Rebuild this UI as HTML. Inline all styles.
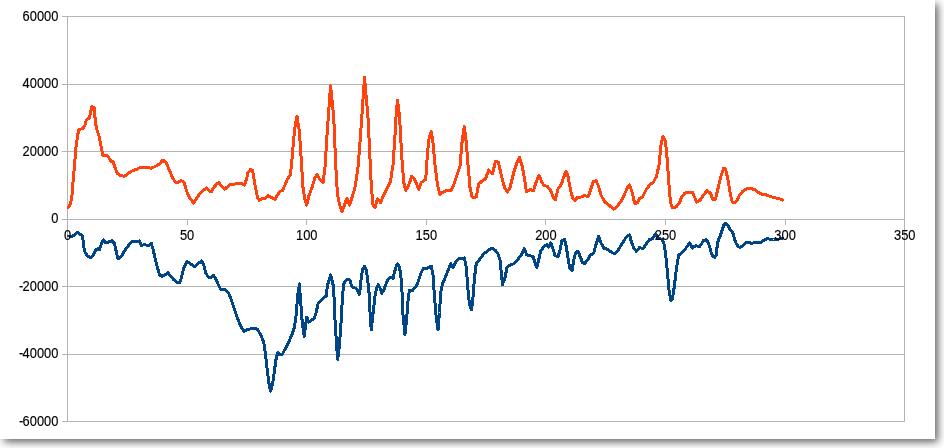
<!DOCTYPE html>
<html><head><meta charset="utf-8"><title>Chart</title>
<style>
html,body{margin:0;padding:0;background:#fff;}
body{width:944px;height:448px;overflow:hidden;position:relative;}
#panel{position:absolute;left:0;top:0;width:935px;height:439px;background:#fff;box-shadow:3.5px 3.5px 8px -0.5px rgba(0,0,0,0.62);}
</style></head><body>
<div id="panel">
<svg width="935" height="439" viewBox="0 0 935 439" style="position:absolute;left:0;top:0">
<g stroke="#b3b3b3" stroke-width="1" fill="none" shape-rendering="crispEdges">
<line x1="62" y1="16.5" x2="905" y2="16.5"/>
<line x1="62" y1="84.5" x2="905" y2="84.5"/>
<line x1="62" y1="151.5" x2="905" y2="151.5"/>
<line x1="62" y1="219.5" x2="905" y2="219.5"/>
<line x1="62" y1="286.5" x2="905" y2="286.5"/>
<line x1="62" y1="354.5" x2="905" y2="354.5"/>
<line x1="62" y1="421.5" x2="905" y2="421.5"/>
<line x1="67.5" y1="16" x2="67.5" y2="422"/>
<line x1="904.5" y1="16" x2="904.5" y2="422"/>
<line x1="67.5" y1="219" x2="67.5" y2="225"/>
<line x1="187.5" y1="219" x2="187.5" y2="225"/>
<line x1="306.5" y1="219" x2="306.5" y2="225"/>
<line x1="426.5" y1="219" x2="426.5" y2="225"/>
<line x1="545.5" y1="219" x2="545.5" y2="225"/>
<line x1="665.5" y1="219" x2="665.5" y2="225"/>
<line x1="785.5" y1="219" x2="785.5" y2="225"/>
<line x1="904.5" y1="219" x2="904.5" y2="225"/>
</g>
<polyline points="68.25,207.50 70.50,203.75 72.00,195.00 73.00,182.50 74.50,165.00 76.00,147.50 77.50,136.30 78.75,130.00 83.10,128.10 85.00,125.00 86.25,120.00 89.40,118.10 90.60,112.50 91.90,106.30 94.40,108.10 95.00,117.50 96.25,127.50 98.75,135.00 100.60,143.75 101.25,147.50 103.00,155.75 106.25,155.00 108.75,157.50 110.75,161.25 113.00,161.25 115.00,167.50 117.50,173.75 121.25,175.75 124.50,176.25 128.75,173.00 132.50,170.75 136.25,169.50 140.00,167.50 143.75,167.50 147.50,167.50 151.25,168.25 155.00,166.50 158.75,164.50 163.00,160.00 166.25,163.00 168.75,168.75 172.00,176.25 175.00,182.00 178.75,182.00 181.25,180.50 184.25,182.50 186.25,190.00 188.75,196.25 191.25,200.00 193.75,203.00 196.25,198.75 198.75,195.00 202.50,191.25 206.25,188.00 208.75,190.50 211.25,191.75 213.75,187.50 216.25,184.50 218.75,182.50 221.25,185.75 224.50,189.25 227.50,186.75 230.50,184.50 233.75,184.50 236.25,183.50 238.75,184.00 241.25,183.50 244.50,185.00 246.25,180.00 248.00,172.50 250.60,169.50 252.50,170.20 253.75,177.50 255.50,187.50 257.50,197.50 259.25,200.50 262.00,198.25 265.00,198.25 268.00,195.50 271.25,197.50 275.00,199.25 277.50,195.00 280.00,191.25 282.50,190.50 285.00,185.00 287.50,178.75 290.00,175.50 291.25,167.50 293.00,147.50 294.50,130.00 297.00,116.25 299.50,132.50 301.25,160.00 303.00,187.50 305.00,200.00 306.75,205.00 308.75,196.25 312.00,187.50 315.00,177.50 317.00,174.50 319.50,178.75 323.00,182.50 325.00,167.50 327.00,135.00 328.25,117.50 330.60,85.70 333.75,117.50 335.00,147.50 336.25,175.00 337.50,195.00 340.00,206.25 342.00,212.00 344.50,205.00 347.00,198.00 349.50,205.00 352.00,197.50 355.00,187.50 358.00,167.50 360.00,142.50 361.75,117.50 364.50,77.50 368.00,117.50 369.50,147.50 371.25,185.00 373.00,205.00 375.00,207.50 377.50,198.75 380.50,202.50 383.75,195.00 387.50,187.50 390.50,181.25 393.00,165.00 395.00,135.00 396.30,112.00 397.50,100.40 399.00,112.00 400.00,125.00 402.00,160.00 403.75,182.50 405.75,190.50 408.75,185.00 411.75,176.25 415.00,180.00 418.75,189.25 421.25,182.50 425.75,179.50 427.00,160.00 428.75,140.00 431.25,131.25 433.00,142.50 435.00,165.00 437.50,185.00 440.00,194.50 443.00,192.00 447.00,190.50 451.25,190.50 453.75,185.00 457.00,175.00 460.00,166.25 462.00,142.50 464.25,126.25 466.25,142.50 468.00,165.00 470.00,187.50 472.00,197.00 476.25,197.00 478.75,183.75 482.00,181.25 485.50,178.75 488.75,170.00 492.50,173.75 495.50,161.25 498.25,162.00 501.25,175.00 504.50,187.50 507.50,192.00 510.00,187.50 513.75,172.50 517.50,161.25 519.50,157.50 522.25,166.25 524.75,180.00 526.50,192.00 529.75,189.50 533.50,190.50 536.00,182.50 539.00,175.00 541.50,181.25 544.00,185.75 547.25,186.25 550.50,190.50 553.50,197.50 555.50,199.50 558.00,188.75 561.50,184.25 563.50,177.50 566.00,171.25 568.00,176.25 570.50,190.00 573.00,198.75 575.00,200.75 577.25,197.50 581.00,197.00 584.00,195.75 588.50,196.25 591.00,188.75 593.50,181.25 596.00,180.75 598.50,186.25 601.00,195.00 604.75,202.00 609.00,205.00 613.50,209.25 617.25,206.25 621.00,201.25 624.75,193.75 627.75,187.00 629.75,185.00 632.25,192.50 634.75,203.75 637.25,203.00 639.75,198.00 642.25,197.50 646.00,190.00 649.75,185.00 653.50,182.00 656.50,176.25 659.00,165.00 661.00,145.00 663.00,136.00 665.50,141.25 667.25,160.00 669.00,185.00 670.50,202.50 672.25,208.00 676.00,207.00 679.00,203.75 681.50,197.50 684.75,193.00 688.50,192.00 692.25,192.00 694.75,197.50 696.50,202.00 699.75,200.50 703.50,195.00 707.25,190.50 710.50,193.50 713.00,199.75 715.50,199.00 718.00,188.50 721.00,176.00 723.60,168.50 725.50,168.80 728.00,179.75 730.50,194.75 732.40,202.25 734.90,202.90 737.40,199.75 739.25,195.40 743.00,191.00 746.75,188.75 751.10,188.50 754.90,189.75 758.00,192.25 761.75,194.10 765.50,194.50 770.50,196.60 775.50,197.90 779.25,198.75 782.40,200.00" fill="none" stroke="#ff420e" stroke-width="3" stroke-linejoin="round" stroke-linecap="round" shape-rendering="crispEdges"/>
<polyline points="68.75,236.00 72.50,236.00 75.00,234.50 77.00,232.25 80.00,234.00 82.50,236.00 83.75,246.50 85.00,252.00 87.50,256.00 90.50,257.75 93.00,256.00 95.50,250.25 98.00,248.50 99.50,249.50 101.25,244.00 103.50,239.75 105.50,242.75 108.75,242.00 112.00,240.75 114.50,243.50 116.25,251.50 118.00,259.00 121.25,256.50 124.50,251.00 128.00,246.00 132.00,241.50 135.00,241.00 137.00,242.00 139.50,241.00 141.25,245.25 145.00,244.75 148.75,246.00 151.25,243.25 153.00,249.00 155.00,257.75 157.50,267.75 159.50,274.75 162.00,276.50 165.00,274.75 168.00,272.75 170.50,276.00 173.75,279.75 177.00,282.25 180.00,282.25 181.75,276.50 183.75,267.75 187.00,261.50 190.50,264.00 194.50,266.50 198.00,263.50 201.75,261.00 203.75,265.25 205.75,272.75 208.00,277.00 210.75,277.25 213.25,275.25 215.75,279.00 218.00,284.00 220.50,289.00 225.00,289.50 228.75,293.25 231.25,299.50 234.50,309.50 237.50,318.25 240.50,325.75 244.25,331.50 247.50,329.50 251.25,328.75 255.00,328.25 257.50,329.50 260.50,334.50 263.75,342.00 265.50,354.50 267.00,368.25 268.75,382.00 270.60,391.30 272.50,384.50 274.25,372.00 276.00,359.50 277.75,352.75 280.00,355.00 282.50,354.00 285.50,348.25 288.75,342.00 292.00,334.50 294.50,327.00 296.25,314.50 297.50,297.00 299.40,284.00 300.50,299.50 302.00,319.50 304.20,336.60 305.50,325.75 306.75,317.00 308.75,322.00 311.25,320.25 314.25,318.25 316.25,312.00 318.25,303.25 321.25,300.00 325.00,297.00 326.25,296.00 327.50,285.00 330.60,275.00 333.10,285.00 334.00,297.00 335.00,319.50 336.50,344.50 337.75,359.50 339.50,344.50 341.25,319.50 342.50,296.00 343.75,283.75 345.60,281.00 347.75,279.30 350.00,280.40 351.25,285.00 353.10,287.50 355.60,288.10 358.10,291.25 359.40,294.50 360.00,290.00 361.25,277.50 362.50,269.50 364.40,266.50 366.25,270.00 367.50,277.50 368.75,290.00 369.40,296.00 370.00,312.00 371.25,330.00 373.00,314.50 375.00,296.00 376.25,290.00 378.10,284.50 379.75,287.50 381.90,293.25 383.75,290.00 385.60,285.00 387.50,280.00 389.40,278.00 391.25,277.70 393.10,278.60 394.40,272.50 396.25,266.00 397.50,263.70 399.40,267.00 400.60,273.75 401.60,283.75 402.20,296.00 403.00,315.00 405.00,334.50 406.75,317.50 408.25,297.50 409.50,290.50 412.50,290.50 416.25,286.25 418.75,280.00 421.25,272.50 423.75,268.00 427.50,268.00 431.25,266.25 433.00,275.00 434.50,297.50 436.25,317.50 438.00,330.00 439.50,312.50 440.75,292.50 442.50,283.75 446.25,275.00 448.75,268.75 450.75,263.75 453.00,268.00 455.50,262.50 458.75,258.75 462.00,258.75 464.50,258.00 466.25,267.50 468.00,290.00 469.50,305.00 471.50,309.50 473.00,297.50 474.50,277.50 476.25,263.75 480.00,258.75 483.75,253.75 487.50,251.25 491.25,248.00 495.00,250.00 498.00,253.75 500.00,260.00 501.25,272.50 502.50,284.50 505.00,277.50 507.00,267.50 510.00,265.00 513.75,263.75 517.50,260.00 521.25,255.00 524.25,248.75 526.75,255.00 530.00,255.50 533.25,257.00 535.00,262.50 536.75,267.50 538.75,260.00 540.50,251.25 543.75,247.00 546.75,244.50 548.75,247.00 550.75,243.00 553.00,248.75 555.00,255.50 558.00,257.00 560.00,250.00 562.00,240.50 564.50,239.50 566.25,246.25 568.25,260.00 570.00,268.75 572.00,270.50 573.75,260.00 575.75,252.50 578.00,251.25 580.00,256.25 582.50,262.50 584.50,263.75 587.50,260.00 590.50,255.00 593.75,253.00 596.25,243.75 598.75,236.25 600.75,242.50 603.75,248.00 607.50,249.50 611.25,252.00 614.50,253.75 617.50,251.25 621.25,245.00 623.00,242.50 626.25,237.00 629.50,234.70 631.25,241.25 633.75,248.00 636.25,251.25 639.50,247.50 643.00,248.75 646.25,243.75 649.50,239.50 652.50,238.75 655.50,233.75 658.75,238.00 662.00,239.50 664.00,243.75 665.75,255.00 667.50,272.50 669.00,290.00 670.75,300.50 672.50,298.75 674.50,285.00 676.50,267.50 678.75,255.00 682.00,252.50 685.50,248.75 689.50,243.00 692.50,248.00 696.00,245.60 699.10,246.90 701.60,243.75 703.50,240.60 705.75,239.75 707.90,241.90 709.50,246.25 711.00,251.90 712.90,256.25 714.75,257.50 716.25,255.00 717.00,247.50 718.25,240.00 720.40,235.60 722.25,230.00 723.75,225.00 725.40,223.50 727.90,225.60 730.00,229.40 732.50,231.90 733.50,235.00 734.75,240.00 736.60,244.40 738.50,246.90 740.40,247.25 742.90,245.60 745.40,243.10 747.25,242.25 749.75,242.50 751.60,243.50 754.10,242.75 757.25,242.50 761.00,242.25 763.50,240.60 765.40,239.40 767.90,238.50 769.75,239.40 773.50,239.50 777.25,239.40 781.00,238.50 782.25,238.10" fill="none" stroke="#004586" stroke-width="3" stroke-linejoin="round" stroke-linecap="round" shape-rendering="crispEdges"/>
<g font-family="Liberation Sans, Arial, sans-serif" font-size="14px" fill="#000" stroke="#000" stroke-width="0.15">
<text transform="translate(58.4,21) scale(0.92,1)" text-anchor="end">60000</text>
<text transform="translate(58.4,88) scale(0.92,1)" text-anchor="end">40000</text>
<text transform="translate(58.4,156) scale(0.92,1)" text-anchor="end">20000</text>
<text transform="translate(58.4,223) scale(0.92,1)" text-anchor="end">0</text>
<text transform="translate(58.4,291) scale(0.92,1)" text-anchor="end">-<tspan dx="-0.7">20000</tspan></text>
<text transform="translate(58.4,358) scale(0.92,1)" text-anchor="end">-<tspan dx="-0.7">40000</tspan></text>
<text transform="translate(58.4,426) scale(0.92,1)" text-anchor="end">-<tspan dx="-0.7">60000</tspan></text>
<text transform="translate(67.5,240) scale(0.92,1)" text-anchor="middle">0</text>
<text transform="translate(187.1,240) scale(0.92,1)" text-anchor="middle">50</text>
<text transform="translate(306.7,240) scale(0.92,1)" text-anchor="middle">100</text>
<text transform="translate(426.3,240) scale(0.92,1)" text-anchor="middle">150</text>
<text transform="translate(545.9,240) scale(0.92,1)" text-anchor="middle">200</text>
<text transform="translate(665.5,240) scale(0.92,1)" text-anchor="middle">250</text>
<text transform="translate(785.1,240) scale(0.92,1)" text-anchor="middle">300</text>
<text transform="translate(904.7,240) scale(0.92,1)" text-anchor="middle">350</text>
</g>
</svg>
</div>
</body></html>
